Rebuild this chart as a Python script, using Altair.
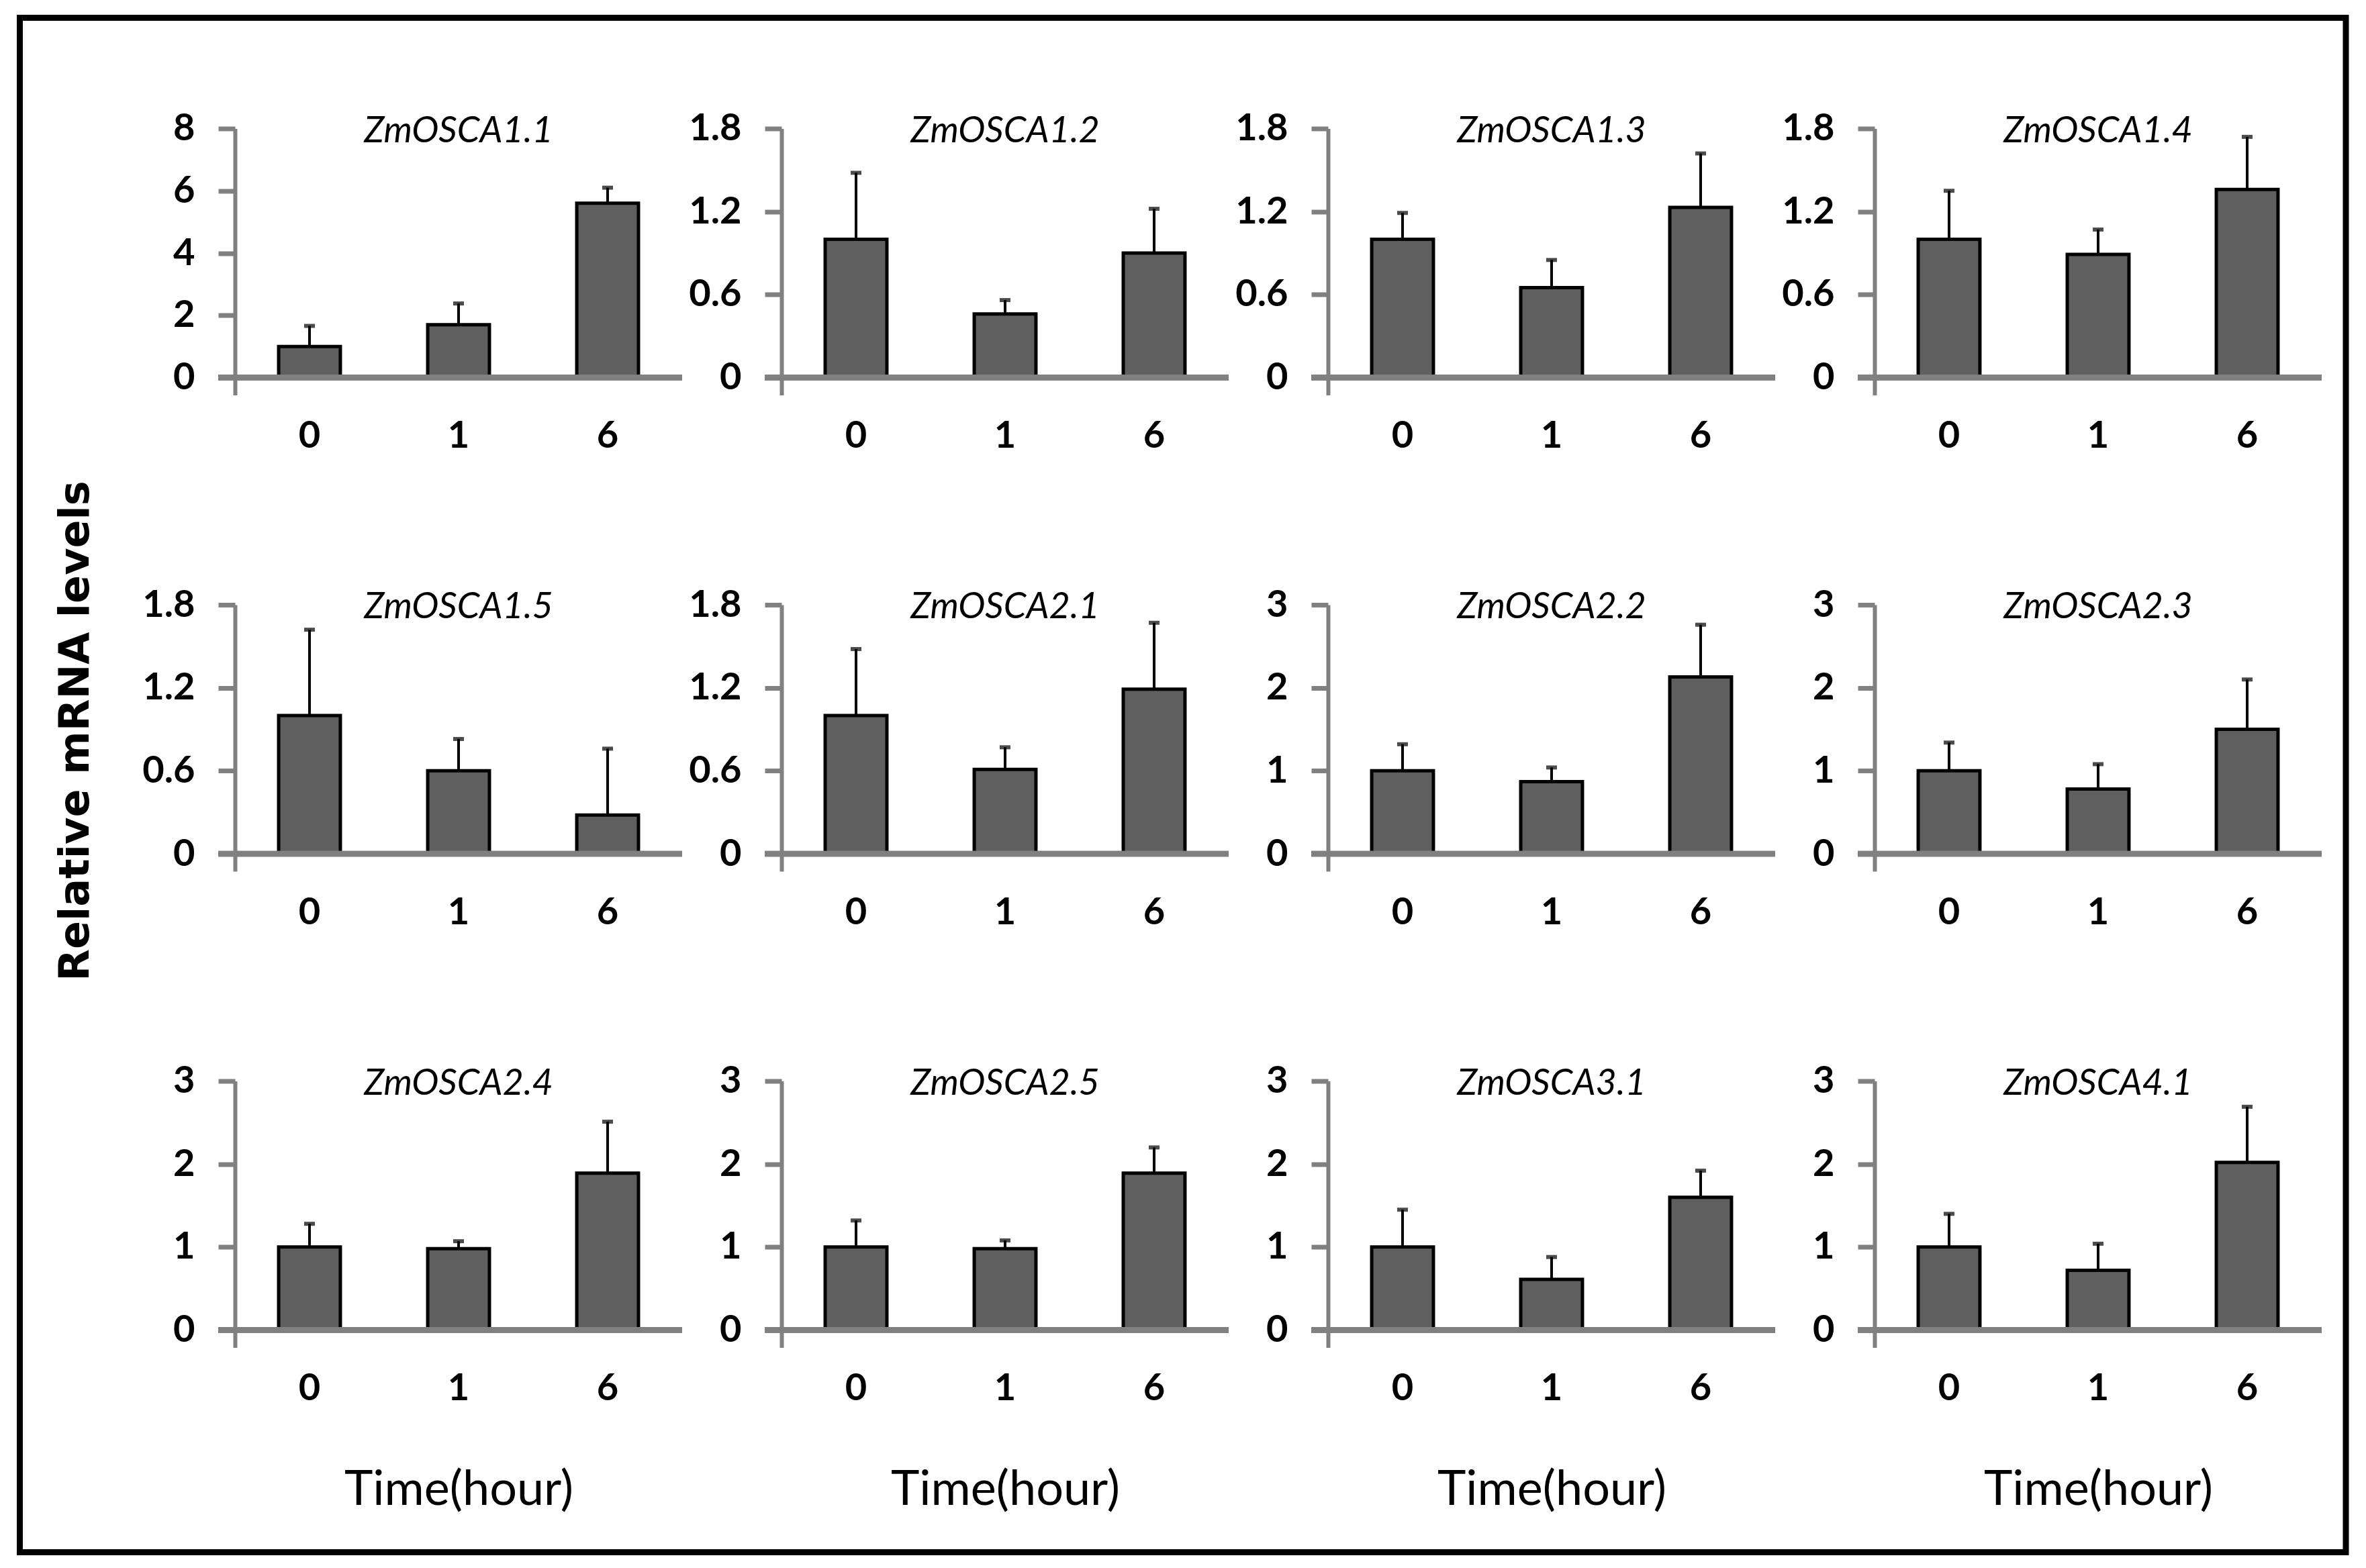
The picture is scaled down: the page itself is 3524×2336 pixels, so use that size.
import altair as alt
import pandas as pd

genes = ["ZmOSCA1.1", "ZmOSCA1.2", "ZmOSCA1.3", "ZmOSCA1.4",
         "ZmOSCA1.5", "ZmOSCA2.1", "ZmOSCA2.2", "ZmOSCA2.3",
         "ZmOSCA2.4", "ZmOSCA2.5", "ZmOSCA3.1", "ZmOSCA4.1"]
times = ["0", "1", "6"]

means = [
    [1.00, 1.70, 5.60],
    [1.00, 0.46, 0.90],
    [1.00, 0.65, 1.23],
    [1.00, 0.89, 1.36],
    [1.00, 0.60, 0.28],
    [1.00, 0.61, 1.19],
    [1.00, 0.87, 2.13],
    [1.00, 0.78, 1.50],
    [1.00, 0.98, 1.89],
    [1.00, 0.98, 1.89],
    [1.00, 0.61, 1.60],
    [1.00, 0.72, 2.02],
]
errors = [
    [0.66, 0.68, 0.50],
    [0.48, 0.10, 0.32],
    [0.19, 0.20, 0.39],
    [0.35, 0.18, 0.38],
    [0.62, 0.23, 0.48],
    [0.48, 0.16, 0.48],
    [0.32, 0.17, 0.63],
    [0.34, 0.30, 0.60],
    [0.28, 0.09, 0.62],
    [0.32, 0.10, 0.31],
    [0.45, 0.27, 0.32],
    [0.40, 0.32, 0.67],
]
y_max = [8, 1.8, 1.8, 1.8, 1.8, 1.8, 3, 3, 3, 3, 3, 3]
y_ticks = [
    [0, 2, 4, 6, 8],
    [0, 0.6, 1.2, 1.8], [0, 0.6, 1.2, 1.8], [0, 0.6, 1.2, 1.8],
    [0, 0.6, 1.2, 1.8], [0, 0.6, 1.2, 1.8],
    [0, 1, 2, 3], [0, 1, 2, 3], [0, 1, 2, 3], [0, 1, 2, 3], [0, 1, 2, 3], [0, 1, 2, 3],
]

x_title = "Time(hour)"
y_title = "Relative mRNA levels"

W, H = 666, 397
EXT = 26 / 371.0
GRAY = "#808080"
FONT = "Lato"


def panel(i):
    row, col = divmod(i, 4)
    ymax = y_max[i]
    ymin = -ymax * EXT
    df = pd.DataFrame({
        "time": times,
        "mean": means[i],
        "top": [m + e for m, e in zip(means[i], errors[i])],
    })

    xaxis_kw = dict(domain=False, ticks=False, tickSize=0, labelAngle=0,
                    labelFont=FONT, labelFontWeight="bold", labelFontSize=56,
                    labelColor="black", labelPadding=34, grid=False)
    if row == 2:
        xaxis_kw.update(title=x_title, titleFont=FONT, titleFontSize=72,
                        titleFontWeight="normal", titleColor="black",
                        titleY=212, titleBaseline="middle")
    else:
        xaxis_kw.update(title=None)
    xaxis = alt.Axis(**xaxis_kw)

    yaxis_kw = dict(values=y_ticks[i], format="~g", grid=False,
                    domainColor=GRAY, domainWidth=6,
                    tickColor=GRAY, tickWidth=7, tickSize=25,
                    labelFont=FONT, labelFontWeight="bold", labelFontSize=56,
                    labelColor="black", labelPadding=35)
    if i == 4:
        yaxis_kw.update(title=y_title, titleFont="DejaVu Sans", titleFontSize=62,
                        titleFontWeight="bold", titleColor="black",
                        titleAngle=270, titleX=-238, titleY=187.5,
                        titleAlign="center", titleBaseline="middle")
    else:
        yaxis_kw.update(title=None)
    yaxis = alt.Axis(**yaxis_kw)

    xs = alt.Scale(domain=times, paddingInner=0.586, paddingOuter=0.293)
    ys = alt.Scale(domain=[ymin, ymax], nice=False, zero=False)

    X = alt.X("time:N", sort=times, scale=xs, axis=xaxis)
    base = alt.Chart(df)

    bars = base.mark_bar(color="#5f5f5f", stroke="black", strokeWidth=5).encode(
        x=X, y=alt.Y("mean:Q", scale=ys, axis=yaxis), y2=alt.datum(0))
    err = base.mark_rule(color="black", strokeWidth=4).encode(
        x=X, y=alt.Y("mean:Q", scale=ys, axis=yaxis), y2="top:Q")
    cap = base.mark_tick(color="black", thickness=6, size=16).encode(
        x=X, y=alt.Y("top:Q", scale=ys, axis=yaxis))
    xline = alt.Chart(pd.DataFrame({"v": [0]})).mark_rule(
        color=GRAY, strokeWidth=9).encode(
        x=alt.value(-25), x2=alt.value(W), y=alt.datum(0))
    title = alt.Chart(pd.DataFrame({"gene": [genes[i]]})).mark_text(
        font=FONT, fontStyle="italic", fontSize=54, color="black",
        align="center", baseline="middle", dy=4).encode(
        x=alt.value(W / 2), y=alt.datum(ymax), text="gene:N")

    layers = [err, cap, bars, xline, title]
    if i == 0:
        frame = alt.Chart(pd.DataFrame({"v": [0]})).mark_rect(
            fill="white", fillOpacity=0, stroke="black", strokeWidth=9).encode(
            x=alt.value(-320.5), x2=alt.value(3144),
            y=alt.value(-165), y2=alt.value(2121))
        layers = [frame] + layers
    return alt.layer(*layers).properties(width=W, height=H)


chart = alt.concat(
    *[panel(i) for i in range(12)],
    columns=4,
    spacing={"row": 312.5, "column": 148},
    bounds="flush",
).properties(
    padding={"left": 17, "top": 13.5, "right": 8, "bottom": 8},
    background="white",
).configure_view(stroke=None)

chart.save("out.html", embed_options={"renderer": "svg", "actions": False})
